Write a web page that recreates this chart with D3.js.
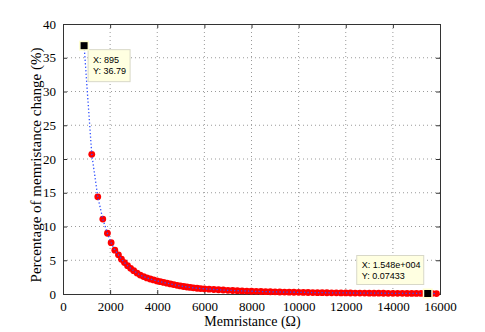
<!DOCTYPE html>
<html>
<head>
<meta charset="utf-8">
<script src="https://cdn.jsdelivr.net/npm/d3@7"></script>
<style>
  body { margin: 0; background: #fff; }
  .label { font-family: "Liberation Serif", "Times New Roman", serif; font-size: 14px; fill: #000; }
  .tip-text { font-family: "Liberation Sans", Arial, sans-serif; font-size: 9px; fill: #000; }
  .axis text { font-family: "Liberation Serif", "Times New Roman", serif; font-size: 13px; fill: #000; }
</style>
</head>
<body>
<svg id="chart"></svg>
<script>
const margin = {top: 24, right: 45, bottom: 38, left: 63},
      width = 485 - margin.left - margin.right,
      height = 332 - margin.top - margin.bottom;

// Memristance (ohm)
const memristance = [895, 1221, 1476, 1689, 1885, 2043, 2200, 2353, 2481, 2609,
  2740, 2870, 3000, 3140, 3277, 3420, 3560, 3700, 3843, 3990,
  4130, 4270, 4413, 4560, 4700, 4840, 4979, 5120, 5260, 5400,
  5540, 5689, 5840, 6000, 6200, 6400, 6600, 6800, 7000, 7200,
  7400, 7600, 7800, 8000, 8200, 8400, 8600, 8800, 9000, 9200,
  9400, 9600, 9800, 10000, 10200, 10400, 10600, 10800, 11000, 11200,
  11400, 11600, 11800, 12000, 12200, 12400, 12600, 12800, 13000, 13200,
  13400, 13600, 13800, 14000, 14200, 14400, 14600, 14800, 15000, 15200,
  15480, 15650, 15850];

// Percentage of memristance change (%)
const change = [36.79, 20.7, 14.4, 11.1, 9.0, 7.6, 6.5, 5.8, 5.15, 4.65,
  4.2, 3.8, 3.45, 3.1, 2.8, 2.58, 2.38, 2.22, 2.08, 1.94,
  1.82, 1.71, 1.6, 1.49, 1.39, 1.29, 1.19, 1.11, 1.04, 0.98,
  0.91, 0.85, 0.81, 0.77, 0.72, 0.67, 0.63, 0.59, 0.55, 0.52,
  0.49, 0.46, 0.44, 0.41, 0.39, 0.37, 0.35, 0.33, 0.315, 0.30,
  0.285, 0.27, 0.258, 0.245, 0.234, 0.223, 0.213, 0.203, 0.194, 0.186,
  0.178, 0.17, 0.163, 0.156, 0.149, 0.143, 0.137, 0.131, 0.126, 0.121,
  0.116, 0.111, 0.107, 0.103, 0.099, 0.095, 0.091, 0.087, 0.084, 0.080,
  0.0743, 0.072, 0.069];

const xTicks = [0, 2000, 4000, 6000, 8000, 10000, 12000, 14000, 16000],
      yTicks = [0, 5, 10, 15, 20, 25, 30, 35, 40];

// Data tips shown on the figure
const tips = [
  {x: 895, y: 36.79, lines: ["X: 895", "Y: 36.79"], dx: 4, dy: 4, w: 42, h: 32},
  {x: 15480, y: 0.07433, lines: ["X: 1.548e+004", "Y: 0.07433"], dx: -71, dy: -38, w: 67, h: 29}
];

const data = memristance.map((m, i) => ({x: m, y: change[i]}));

let x = d3.scaleLinear().domain([0, 16000]).range([0, width]);
let y = d3.scaleLinear().domain([0, 40]).range([height, 0]);

let chart = d3.select("#chart")
              .attr("width", width + margin.left + margin.right)
              .attr("height", height + margin.top + margin.bottom)
              .append("g")
              .attr("transform", "translate(" + margin.left + "," + margin.top + ")");

// Grid lines
chart.append("g")
     .selectAll("line")
     .data(xTicks.slice(1, -1))
     .enter().append("line")
     .attr("x1", (d) => x(d)).attr("x2", (d) => x(d))
     .attr("y1", 0).attr("y2", height)
     .style("stroke", "#9a9a9a")
     .style("stroke-width", 1)
     .style("stroke-dasharray", "1,3");

chart.append("g")
     .selectAll("line")
     .data(yTicks.slice(1, -1))
     .enter().append("line")
     .attr("x1", 0).attr("x2", width)
     .attr("y1", (d) => y(d)).attr("y2", (d) => y(d))
     .style("stroke", "#9a9a9a")
     .style("stroke-width", 1)
     .style("stroke-dasharray", "1,3");

// Axes (ticks pointing inward, MATLAB style)
chart.append("g")
     .attr("class", "axis")
     .attr("transform", "translate(0," + height + ")")
     .call(d3.axisBottom(x).tickValues(xTicks).tickFormat(d3.format("d"))
             .tickSizeInner(-4).tickSizeOuter(0).tickPadding(8))
     .attr("font-family", "Liberation Serif");
chart.append("g")
     .attr("class", "axis")
     .call(d3.axisLeft(y).tickValues(yTicks).tickFormat(d3.format("d"))
             .tickSizeInner(-4).tickSizeOuter(0).tickPadding(7))
     .attr("font-family", "Liberation Serif");
chart.append("g")
     .call(d3.axisTop(x).tickValues(xTicks).tickSizeInner(-4).tickSizeOuter(0).tickFormat(""));
chart.append("g")
     .attr("transform", "translate(" + width + ",0)")
     .call(d3.axisRight(y).tickValues(yTicks).tickSizeInner(-4).tickSizeOuter(0).tickFormat(""));

chart.selectAll(".domain, .tick line").style("stroke", "#333");

// Plot border
chart.append("rect")
     .attr("width", width)
     .attr("height", height)
     .style("fill", "none")
     .style("stroke", "#333")
     .style("stroke-width", 1)
     .style("shape-rendering", "crispEdges");

// Red markers
chart.append("g")
     .selectAll("circle")
     .data(data)
     .enter().append("circle")
     .attr("cx", (d) => x(d.x))
     .attr("cy", (d) => y(d.y))
     .attr("r", 3.4)
     .style("fill", "#ff0000");

// Blue dotted line
chart.append("path")
     .datum(data)
     .attr("d", d3.line().x((d) => x(d.x)).y((d) => y(d.y)))
     .style("fill", "none")
     .style("stroke", "#3050ff")
     .style("stroke-width", 1.3)
     .style("stroke-dasharray", "1.3,2.2");

// Data tips
tips.forEach((t) => {
  let px = x(t.x), py = y(t.y);
  let g = chart.append("g");
  g.append("rect")
   .attr("x", px + t.dx).attr("y", py + t.dy)
   .attr("width", t.w).attr("height", t.h)
   .style("fill", "#ffffe1")
   .style("stroke", "#d8d8c8")
   .style("stroke-width", 1);
  t.lines.forEach((s, i) => {
    g.append("text")
     .attr("class", "tip-text")
     .attr("x", px + t.dx + 5)
     .attr("y", py + t.dy + 13 + i * 11)
     .text(s);
  });
  g.append("rect")
   .attr("x", px - 5).attr("y", py - 5)
   .attr("width", 10).attr("height", 10)
   .style("fill", "#ffffd0");
  g.append("rect")
   .attr("x", px - 3.5).attr("y", py - 3.5)
   .attr("width", 7).attr("height", 7)
   .style("fill", "#000");
});

// x-Axis label
chart.append("text")
     .attr("class", "label")
     .attr("x", width / 2 + 1)
     .attr("y", height + 32)
     .style("text-anchor", "middle")
     .text("Memristance (Ω)");

// y-Axis label
chart.append("text")
     .attr("class", "label")
     .attr("transform", "rotate(-90)")
     .attr("x", -height / 2 - 6)
     .attr("y", -22)
     .style("text-anchor", "middle")
     .style("font-size", "15px")
     .text("Percentage of memristance change (%)");
</script>
</body>
</html>
